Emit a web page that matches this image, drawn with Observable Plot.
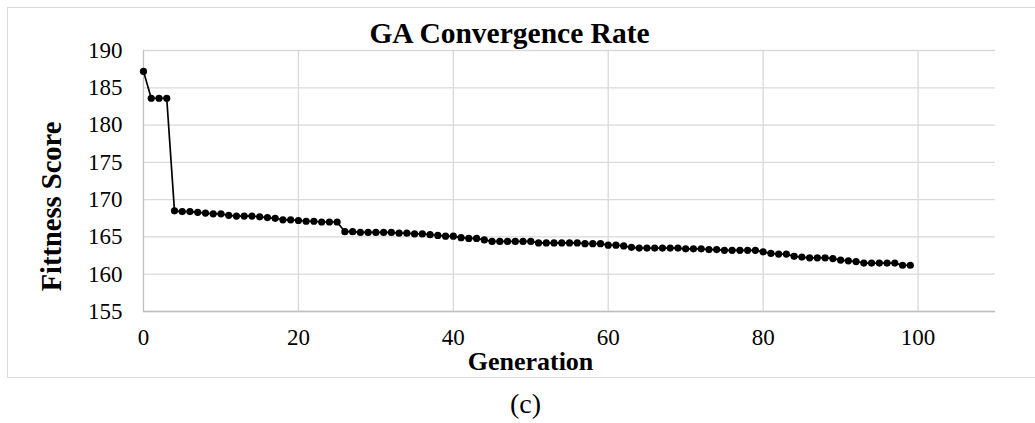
<!DOCTYPE html>
<html><head><meta charset="utf-8">
<script src="https://cdn.jsdelivr.net/npm/d3@7"></script>
<script src="https://cdn.jsdelivr.net/npm/@observablehq/plot@0.6"></script>
<style>
html,body{margin:0;padding:0;background:#fff;}
#wrap{position:relative;width:1035px;height:423px;overflow:hidden;}
#frame{position:absolute;left:7px;top:7px;width:1040px;height:371px;border:1px solid #d9d9d9;box-sizing:border-box;}
#chart{position:absolute;left:0;top:0;}
</style></head>
<body><div id="wrap"><div id="frame"></div><div id="chart"></div></div>
<script>
const titleText = "GA Convergence Rate";
const xLabel = "Generation";
const yLabel = "Fittness Score";
const caption = "(c)";
const xTicks = [0, 20, 40, 60, 80, 100];
const xGrid = [20, 40, 60, 80, 100];
const yTicks = [155, 160, 165, 170, 175, 180, 185, 190];
const fitness = [
  187.2, 183.6, 183.6, 183.6, 168.5, 168.4, 168.4, 168.3, 168.2, 168.1,
  168.1, 167.9, 167.8, 167.8, 167.8, 167.7, 167.6, 167.5, 167.3, 167.3,
  167.2, 167.1, 167.1, 167.0, 167.0, 167.0, 165.7, 165.7, 165.6, 165.6,
  165.6, 165.6, 165.6, 165.5, 165.5, 165.4, 165.4, 165.3, 165.2, 165.1,
  165.1, 164.9, 164.8, 164.8, 164.6, 164.4, 164.4, 164.4, 164.4, 164.4,
  164.4, 164.2, 164.2, 164.2, 164.2, 164.2, 164.2, 164.1, 164.1, 164.1,
  163.9, 163.9, 163.8, 163.6, 163.5, 163.5, 163.5, 163.5, 163.5, 163.5,
  163.4, 163.4, 163.4, 163.3, 163.3, 163.2, 163.2, 163.2, 163.2, 163.2,
  163.0, 162.8, 162.7, 162.7, 162.4, 162.3, 162.2, 162.2, 162.2, 162.1,
  161.9, 161.8, 161.7, 161.5, 161.5, 161.5, 161.5, 161.5, 161.2, 161.2
];
const data = fitness.map((v, i) => ({gen: i, fit: v}));
const serif = "'Liberation Serif', 'Times New Roman', Times, serif";

const chart = Plot.plot({
  width: 1035, height: 423,
  marginLeft: 143, marginRight: 40, marginTop: 50, marginBottom: 112,
  style: {fontFamily: serif, fontSize: "23px", color: "#000", background: "transparent"},
  x: {domain: [0, 110]},
  y: {domain: [155, 190]},
  marks: [
    Plot.gridY(yTicks, {stroke: "#d9d9d9", strokeOpacity: 1, strokeWidth: 1.3}),
    Plot.gridX(xGrid, {stroke: "#d9d9d9", strokeOpacity: 1, strokeWidth: 1.3}),
    Plot.ruleX([0], {stroke: "#bfbfbf", strokeWidth: 1.3}),
    Plot.ruleY([155], {stroke: "#bfbfbf", strokeWidth: 1.3}),
    Plot.axisX(xTicks, {tickSize: 0, tickPadding: 17, label: null, fontSize: 23}),
    Plot.axisY(yTicks, {tickSize: 0, tickPadding: 21, label: null, fontSize: 23}),
    Plot.line(data, {x: "gen", y: "fit", stroke: "#000", strokeWidth: 1.7}),
    Plot.dot(data, {x: "gen", y: "fit", r: 3.6, fill: "#000"}),
    Plot.text([titleText], {text: d => d, frameAnchor: "top", lineAnchor: "bottom", dx: -60, dy: -8, fontSize: 29.5, fontWeight: "bold"}),
    Plot.text([xLabel], {text: d => d, frameAnchor: "bottom", lineAnchor: "top", dx: -39, dy: 40, fontSize: 26, fontWeight: "bold"}),
    Plot.text([yLabel], {text: d => d, frameAnchor: "left", textAnchor: "middle", rotate: -90, dx: -91.5, dy: 25.5, fontSize: 28.5, fontWeight: "bold"}),
    Plot.text([caption], {text: d => d, frameAnchor: "bottom", lineAnchor: "top", dx: -44, dy: 82, fontSize: 28})
  ]
});
document.getElementById("chart").appendChild(chart);
</script>
</body></html>
